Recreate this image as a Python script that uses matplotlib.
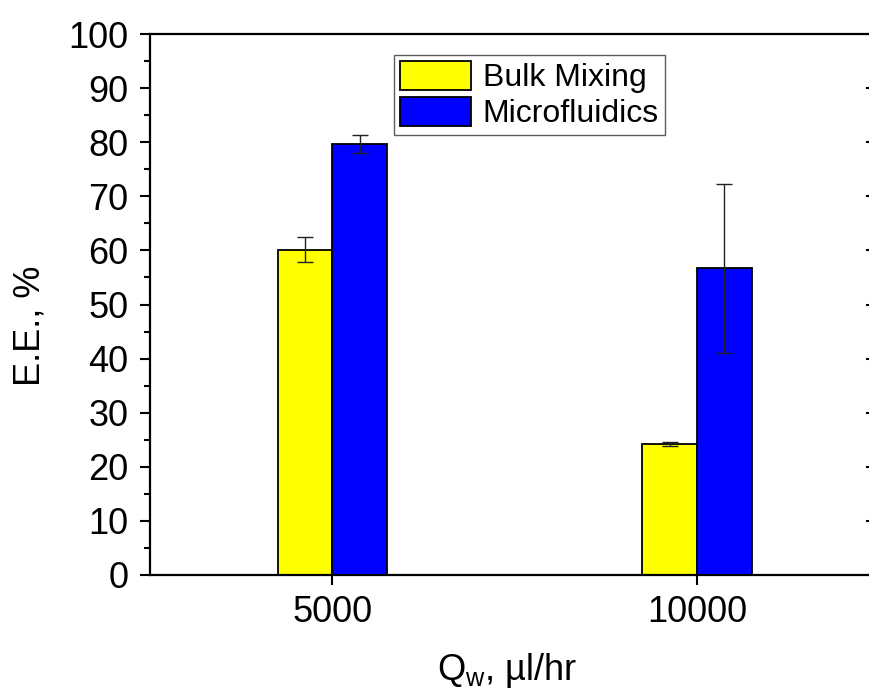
import matplotlib
matplotlib.use("Agg")
import matplotlib.pyplot as plt
import numpy as np

# Encapsulation efficiency vs. water-phase flow rate
flow_rates = ["5000", "10000"]
series_names = ["Bulk Mixing", "Microfluidics"]
bulk_mixing = [60.1, 24.2]
bulk_mixing_err = [2.3, 0.3]
microfluidics = [79.7, 56.7]
microfluidics_err = [1.65, 15.6]

plt.rcParams["font.family"] = ["Liberation Sans", "DejaVu Sans"]
plt.rcParams["mathtext.default"] = "regular"

fig = plt.figure(figsize=(8.7, 6.89), dpi=100)
ax = fig.add_axes([150 / 870, 1 - 575 / 689, 729.5 / 870, 541 / 689])

x = np.arange(len(flow_rates))
width = 0.15
err_kw = dict(ecolor="#222222", elinewidth=1.0, capsize=5.5, capthick=1.0)
ax.bar(x - width / 2, bulk_mixing, width, yerr=bulk_mixing_err,
       color="#ffff00", edgecolor="black", linewidth=1.3,
       label=series_names[0], error_kw=err_kw, zorder=2)
ax.bar(x + width / 2, microfluidics, width, yerr=microfluidics_err,
       color="#0000ff", edgecolor="black", linewidth=1.3,
       label=series_names[1], error_kw=err_kw, zorder=2)

ax.set_xlim(-0.5, 1.5)
ax.set_ylim(0, 100)
ax.set_xticks(x)
ax.set_xticklabels(flow_rates)
ax.set_yticks(np.arange(0, 101, 10))
ax.set_yticks(np.arange(5, 100, 10), minor=True)

for side in ["left", "bottom", "top", "right"]:
    ax.spines[side].set_linewidth(1.6)

ax.tick_params(axis="y", which="major", direction="out", length=7.5, width=1.5,
               labelsize=26, pad=8, right=True)
ax.tick_params(axis="y", which="minor", direction="out", length=4, width=1.5)
ax.tick_params(axis="x", which="major", direction="out", length=7.5, width=1.5,
               labelsize=26, pad=7)
# right-side ticks point inward
for t in ax.yaxis.get_major_ticks():
    t.tick2line.set_marker(matplotlib.lines.TICKLEFT)
    t.tick2line.set_markersize(10)

ax.set_ylabel("E.E., %", fontsize=26)
ax.set_xlabel("Q$_{w}$, µl/hr", fontsize=26)
ax.yaxis.set_label_coords(-0.141, 0.46)
ax.xaxis.set_label_coords(0.49, -0.14)

leg = ax.legend(loc="upper left", bbox_to_anchor=(394 / 870, 1 - 55 / 689),
                bbox_transform=fig.transFigure, fontsize=23, frameon=True,
                fancybox=False, shadow=False, borderaxespad=0,
                handlelength=2.22, handleheight=1.05, labelspacing=0.1,
                handletextpad=0.38, borderpad=0.18)
leg.get_frame().set_edgecolor("#333333")
leg.get_frame().set_linewidth(1.0)

fig.savefig("out.png", dpi=100)
